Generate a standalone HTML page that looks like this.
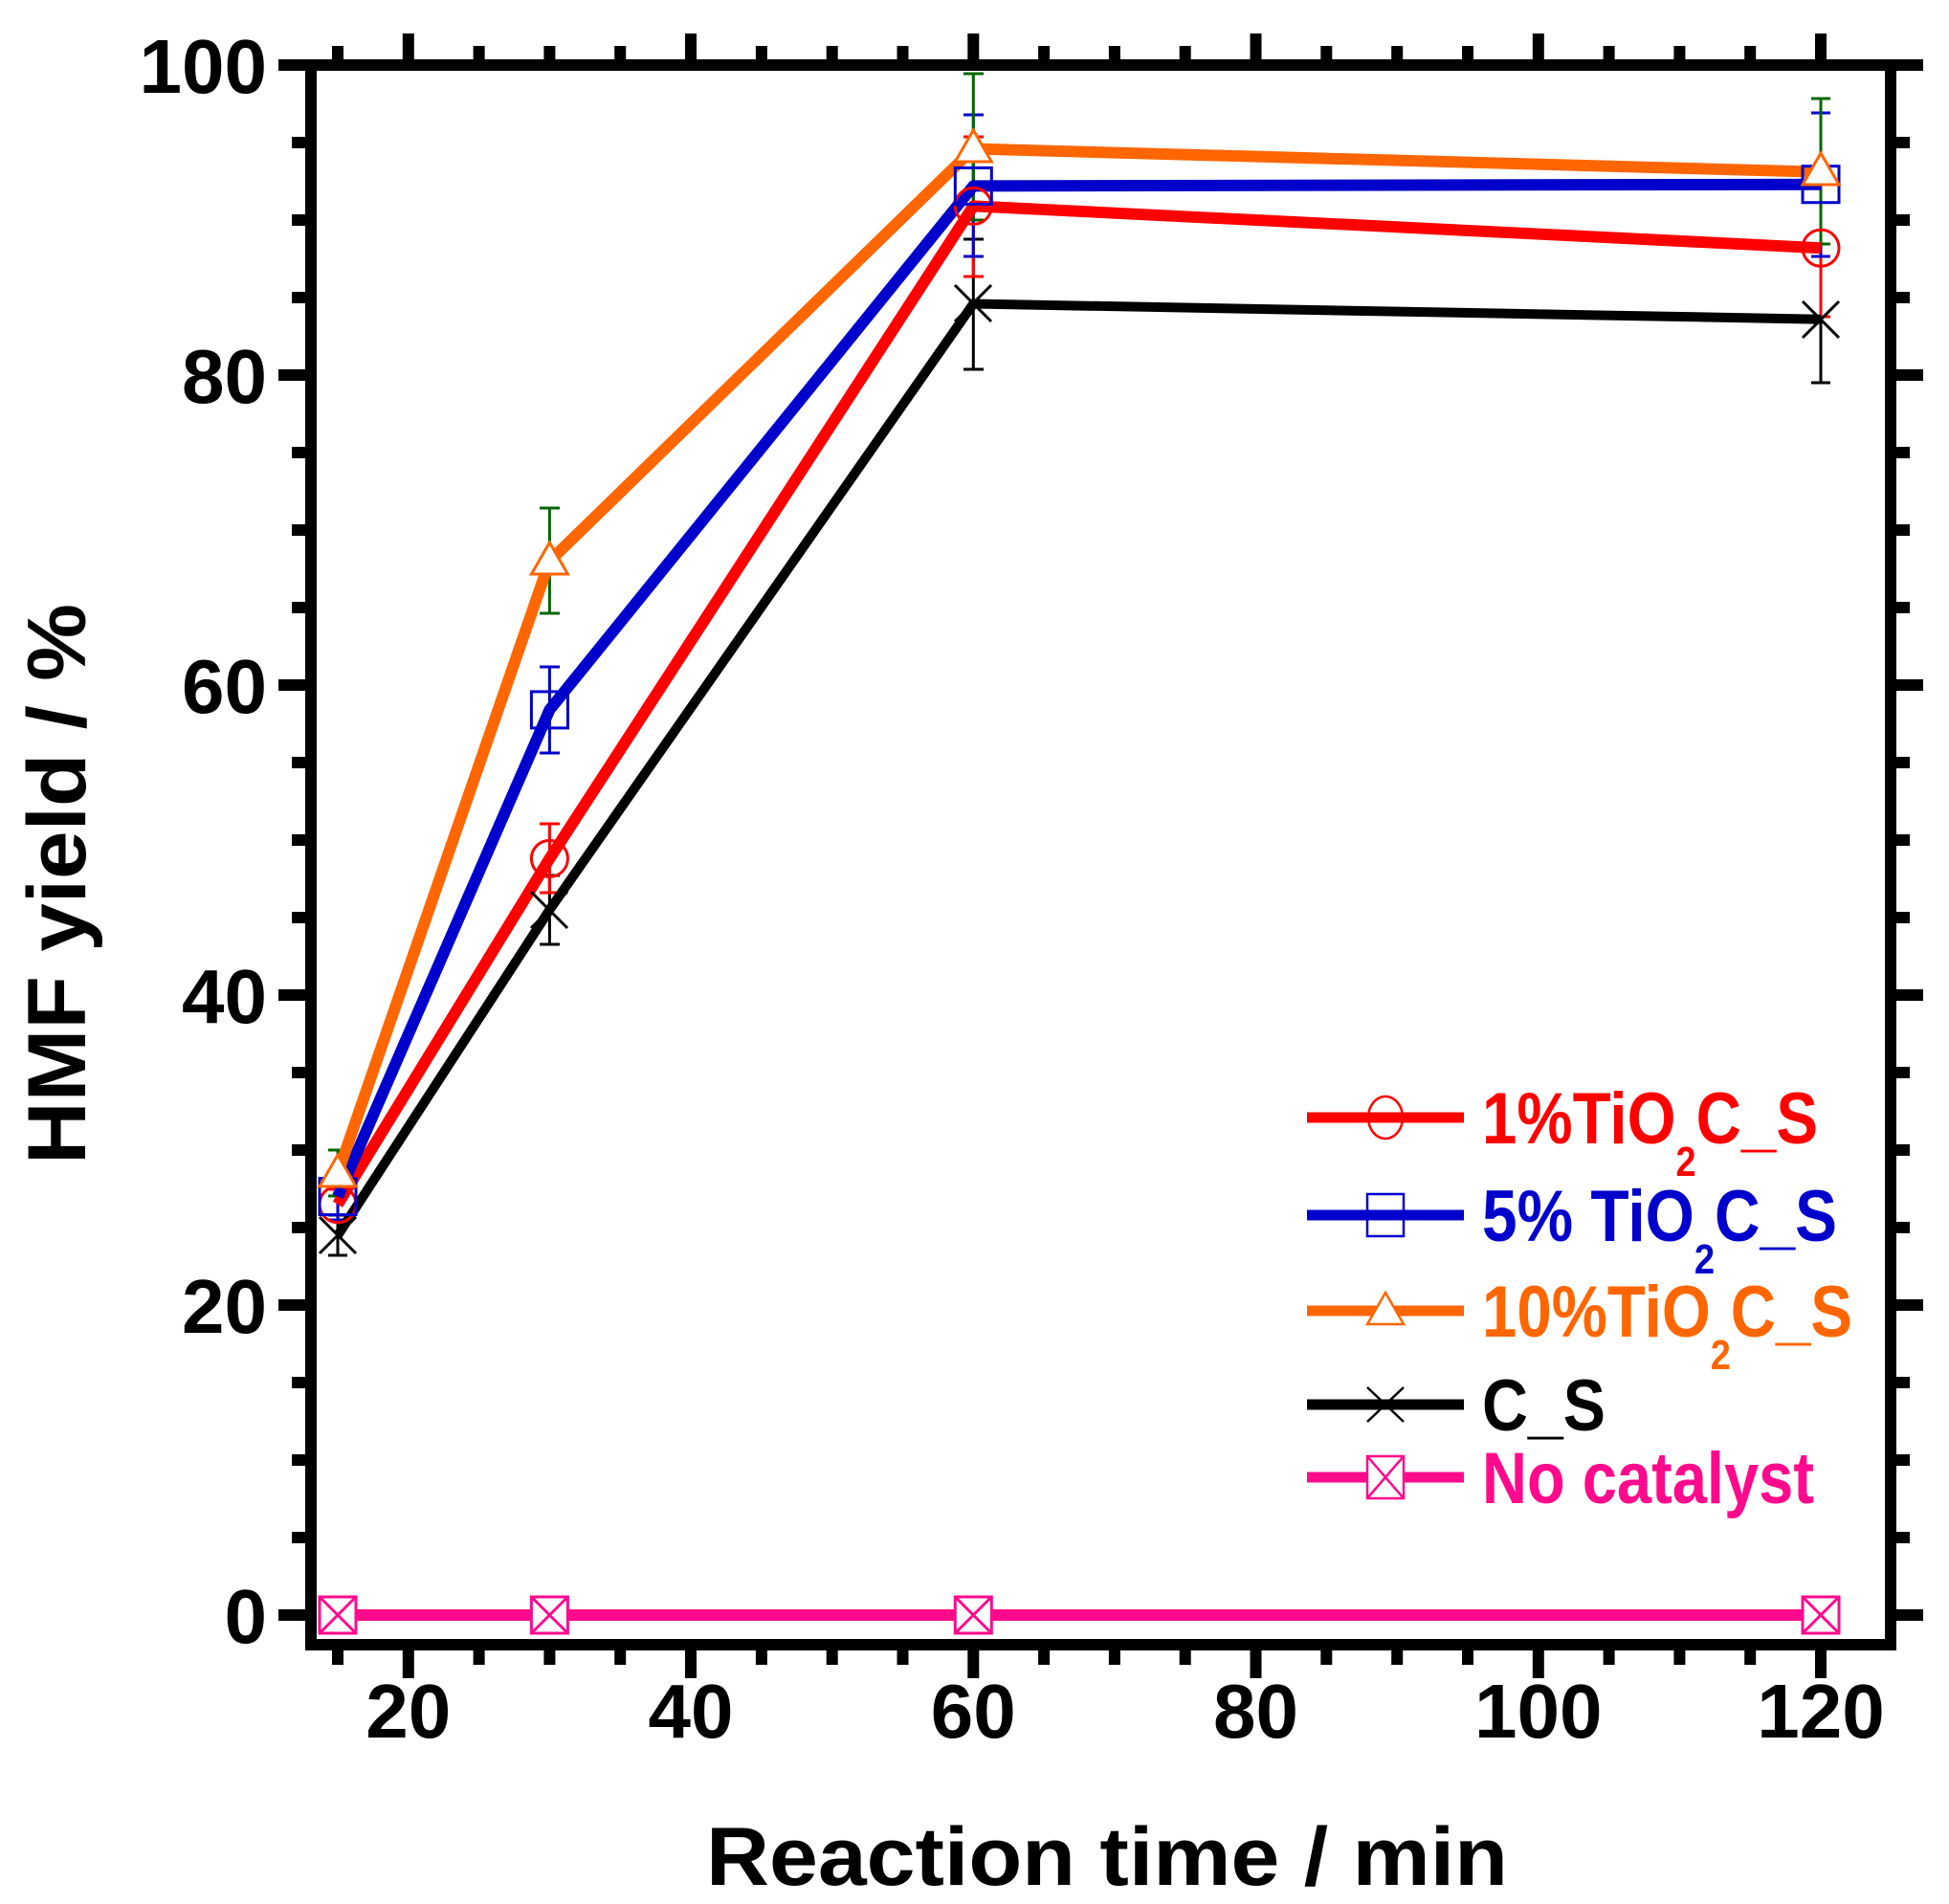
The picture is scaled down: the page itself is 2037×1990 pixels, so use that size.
<!DOCTYPE html>
<html><head><meta charset="utf-8"><style>html,body{margin:0;padding:0;background:#fff}svg{display:block}</style></head><body>
<svg xmlns="http://www.w3.org/2000/svg" width="2037" height="1990" viewBox="0 0 2037 1990" font-family="Liberation Sans, sans-serif" font-weight="bold">
<rect width="2037" height="1990" fill="#fff"/>
<g stroke="#000" stroke-width="12" fill="none">
<path d="M291 1688H325M291 1364H325M291 1040H325M291 716H325M291 392H325M291 68H325"/>
<path d="M305 1607H325M305 1526H325M305 1445H325M305 1283H325M305 1202H325M305 1121H325M305 959H325M305 878H325M305 797H325M305 635H325M305 554H325M305 473H325M305 311H325M305 230H325M305 149H325"/>
<path d="M1976 1688H2010M1976 1364H2010M1976 1040H2010M1976 716H2010M1976 392H2010M1976 68H2010"/>
<path d="M1976 1607H1996M1976 1526H1996M1976 1445H1996M1976 1283H1996M1976 1202H1996M1976 1121H1996M1976 959H1996M1976 878H1996M1976 797H1996M1976 635H1996M1976 554H1996M1976 473H1996M1976 311H1996M1976 230H1996M1976 149H1996"/>
<path d="M426.8 1719V1754M722 1719V1754M1017.3 1719V1754M1312.5 1719V1754M1607.8 1719V1754M1903 1719V1754"/>
<path d="M353 1719V1740M500.6 1719V1740M574.4 1719V1740M648.2 1719V1740M795.9 1719V1740M869.7 1719V1740M943.5 1719V1740M1091.1 1719V1740M1164.9 1719V1740M1238.7 1719V1740M1386.3 1719V1740M1460.2 1719V1740M1534 1719V1740M1681.6 1719V1740M1755.4 1719V1740M1829.2 1719V1740"/>
<path d="M426.8 68V35M722 68V35M1017.3 68V35M1312.5 68V35M1607.8 68V35M1903 68V35"/>
<path d="M353 68V48M500.6 68V48M574.4 68V48M648.2 68V48M795.9 68V48M869.7 68V48M943.5 68V48M1091.1 68V48M1164.9 68V48M1238.7 68V48M1386.3 68V48M1460.2 68V48M1534 68V48M1681.6 68V48M1755.4 68V48M1829.2 68V48"/>
<rect x="325" y="68" width="1651" height="1651" stroke-linejoin="miter"/>
</g>
<g font-size="80" fill="#000" text-anchor="end">
<text x="279" y="1717">0</text><text x="279" y="1393">20</text><text x="279" y="1069">40</text><text x="279" y="745">60</text><text x="279" y="421">80</text><text x="279" y="97">100</text>
</g>
<g font-size="80" fill="#000" text-anchor="middle">
<text x="426.8" y="1816">20</text><text x="722" y="1816">40</text><text x="1017.3" y="1816">60</text><text x="1312.5" y="1816">80</text><text x="1607.8" y="1816">100</text><text x="1903" y="1816">120</text>
</g>
<text x="738" y="1970" font-size="86" textLength="838" lengthAdjust="spacingAndGlyphs">Reaction time / min</text>
<text transform="translate(89,1217) rotate(-90)" font-size="86" textLength="586" lengthAdjust="spacingAndGlyphs">HMF yield / %</text>
<g stroke-width="3" fill="none">
<path stroke="#000" d="M353 1270V1312M343 1270H363M343 1312H363M574.4 915V987M564 915H585M564 987H585M1017.3 250V386M1007 250H1028M1007 386H1028M1903 268V400M1893 268H1913M1893 400H1913"/>
<path stroke="#f00" d="M353 1243V1275M343 1243H363M343 1275H363M574.4 861V933M564 861H585M564 933H585M1017.3 143V289M1007 143H1028M1007 289H1028M1903 259V331M1893 331H1913"/>
<path stroke="#0000cc" d="M353 1227V1275M343 1227H363M343 1275H363M574.4 697V787M564 697H585M564 787H585M1017.3 120V268M1007 120H1028M1007 268H1028M1903 118V268M1893 118H1913M1893 268H1913"/>
<path stroke="#006600" d="M353 1202V1250M343 1202H363M343 1250H363M574.4 531V641M564 531H585M564 641H585M1017.3 77V230M1007 77H1028M1007 230H1028M1903 103V255M1893 103H1913M1893 255H1913"/>
</g>
<g fill="none" stroke-linejoin="round" stroke-width="12">
<polyline stroke="#000" stroke-width="10" points="353,1291.1 574.4,950.9 1017.3,317.5 1903,333.7"/>
<polyline stroke="#f00" points="353,1258.7 574.4,897.4 1017.3,215.4 1903,259.2"/>
<polyline stroke="#0000cc" points="353,1250.6 574.4,741.9 1017.3,194.4 1903,192.7"/>
<polyline stroke="#ff6600" points="353,1226.3 574.4,586.4 1017.3,155.5 1903,179.8"/>
<polyline stroke="#ff0a8c" points="353,1688 1903,1688"/>
</g>
<g fill="none" stroke-width="3">
<g stroke="#000"><path d="M334 1272l38 38M372 1272l-38 38M555 932l38 38M593 932l-38 38M998 298l38 38M1036 298l-38 38M1884 315l38 38M1922 315l-38 38"/></g>
<g stroke="#f00"><circle cx="353" cy="1258.7" r="19"/><circle cx="574.4" cy="897.4" r="19"/><circle cx="1017.3" cy="215.4" r="19"/><circle cx="1903" cy="259.2" r="19"/></g>
<g stroke="#0000cc"><rect x="334" y="1231.6" width="38" height="38"/><rect x="555.4" y="722.9" width="38" height="38"/><rect x="998.3" y="175.4" width="38" height="38"/><rect x="1884" y="173.7" width="38" height="38"/></g>
<g stroke="#ff6600" fill="#fff"><path d="M353 1207l19 33h-38z"/><path d="M574.4 567l19 33h-38z"/><path d="M1017.3 136l19 33h-38z"/><path d="M1903 160l19 33h-38z"/></g>
<g stroke="#ff0a8c" fill="#fff"><path d="M334 1669h38v38h-38zM334 1669l38 38M372 1669l-38 38"/><path d="M555.4 1669h38v38h-38zM555.4 1669l38 38M593.4 1669l-38 38"/><path d="M998.3 1669h38v38h-38zM998.3 1669l38 38M1036.3 1669l-38 38"/><path d="M1884 1669h38v38h-38zM1884 1669l38 38M1922 1669l-38 38"/></g>
</g>
<g stroke-width="11">
<path stroke="#f00" d="M1366 1168H1530"/>
<path stroke="#0000cc" d="M1366 1270H1530"/>
<path stroke="#ff6600" d="M1366 1370H1530"/>
<path stroke="#000" d="M1366 1468H1530"/>
<path stroke="#ff0a8c" d="M1366 1544H1429M1467 1544H1530"/>
</g>
<g fill="none" stroke-width="2.5">
<ellipse cx="1448" cy="1168" rx="18" ry="22" stroke="#f00"/>
<rect x="1429" y="1248" width="38" height="44" stroke="#0000cc"/>
<path d="M1448 1351l19 33h-38z" stroke="#ff6600" fill="#fff"/>
<path d="M1429 1450l38 36M1467 1450l-38 36" stroke="#000"/>
<path d="M1429 1522h38v44h-38zM1429 1522l38 44M1467 1522l-38 44" stroke="#ff0a8c" fill="#fff"/>
</g>
<g font-size="76">
<text x="1549" y="1195" fill="#f00" textLength="351" lengthAdjust="spacingAndGlyphs">1%TiO<tspan font-size="44" dy="34">2</tspan><tspan dy="-34">C_S</tspan></text>
<text x="1549" y="1297" fill="#0000cc" textLength="371" lengthAdjust="spacingAndGlyphs">5% TiO<tspan font-size="44" dy="34">2</tspan><tspan dy="-34">C_S</tspan></text>
<text x="1549" y="1397" fill="#ff6600" textLength="387" lengthAdjust="spacingAndGlyphs">10%TiO<tspan font-size="44" dy="34">2</tspan><tspan dy="-34">C_S</tspan></text>
<text x="1549" y="1495" fill="#000" textLength="129" lengthAdjust="spacingAndGlyphs">C_S</text>
<text x="1549" y="1571" fill="#ff0a8c" textLength="347" lengthAdjust="spacingAndGlyphs">No catalyst</text>
</g>
</svg>
</body></html>
